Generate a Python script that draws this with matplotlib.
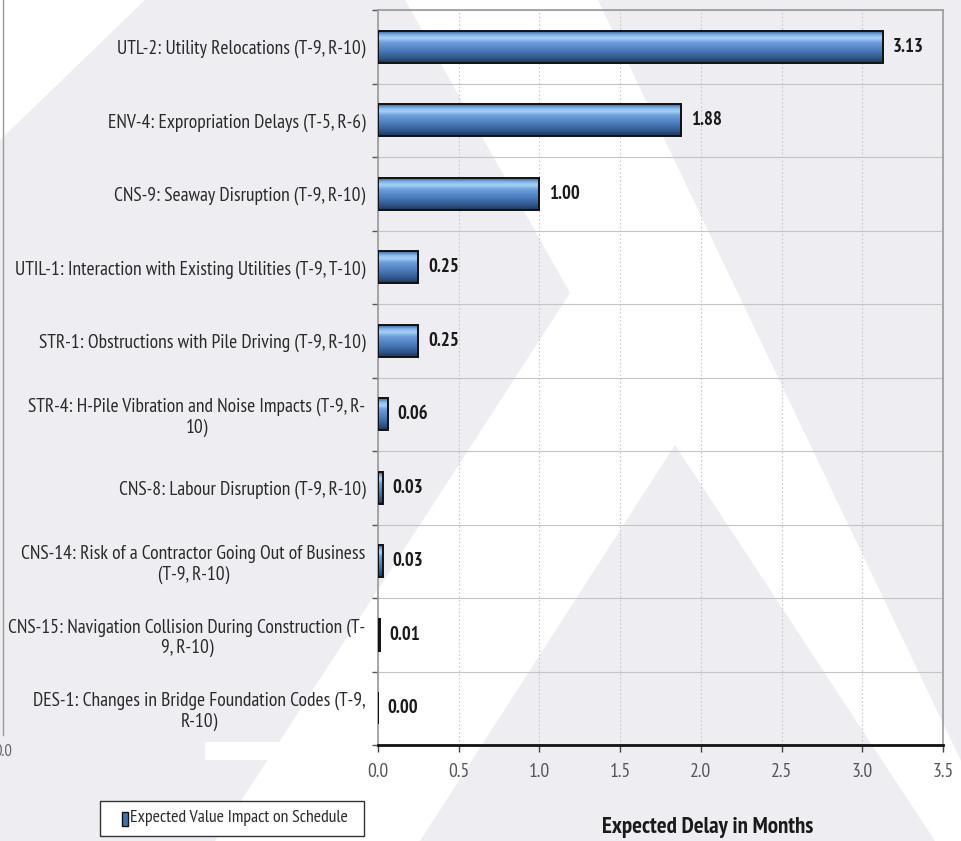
import numpy as np
import matplotlib.pyplot as plt
from matplotlib import font_manager
from matplotlib.colors import LinearSegmentedColormap
from matplotlib.patches import Polygon, Rectangle

# Risk items and their expected schedule impact (months)
risks = [
    'UTL-2: Utility Relocations (T-9, R-10)',
    'ENV-4: Expropriation Delays (T-5, R-6)',
    'CNS-9: Seaway Disruption (T-9, R-10)',
    'UTIL-1: Interaction with Existing Utilities (T-9, T-10)',
    'STR-1: Obstructions with Pile Driving (T-9, R-10)',
    'STR-4: H-Pile Vibration and Noise Impacts (T-9, R-\n10)',
    'CNS-8: Labour Disruption (T-9, R-10)',
    'CNS-14: Risk of a Contractor Going Out of Business\n(T-9, R-10)',
    'CNS-15: Navigation Collision During Construction (T-\n9, R-10)',
    'DES-1: Changes in Bridge Foundation Codes (T-9,\nR-10)',
]
delay = [3.13, 1.88, 1.00, 0.25, 0.25, 0.06, 0.03, 0.03, 0.01, 0.00]
xticks = [0.0, 0.5, 1.0, 1.5, 2.0, 2.5, 3.0, 3.5]

W, H = 962, 841

# pick a narrow sans face if one is installed
installed = {f.name for f in font_manager.fontManager.ttflist}
narrow_faces = ['Liberation Sans Narrow', 'Arial Narrow', 'PT Sans Narrow', 'Archivo Narrow',
                'Pragati Narrow', 'Roboto Condensed', 'IBM Plex Sans Condensed',
                'Fira Sans Condensed', 'Asap Condensed', 'Encode Sans Condensed']
NARROW = [f for f in narrow_faces if f in installed][:1] + ['DejaVu Sans']

fig = plt.figure(figsize=(W / 100, H / 100), dpi=100, facecolor='white')


def fpx(pts):
    # pixel coords (origin top-left) -> figure fraction
    return [(x / W, 1 - y / H) for x, y in pts]


# faint triangle pattern in the background
gray = '#eeeef2'
for pts in [
    [(0, 140), (145, 0), (405, 0), (570, 293), (215, 841), (0, 841)],
    [(598, 0), (962, 0), (962, 763)],
    [(675, 445), (420, 841), (935, 841)],
]:
    fig.patches.append(Polygon(fpx(pts), closed=True, transform=fig.transFigure,
                               facecolor=gray, edgecolor='none', zorder=-10))
fig.patches.append(Rectangle((205 / W, 1 - 760 / H), 165 / W, 18 / H,
                             transform=fig.transFigure, facecolor='white',
                             edgecolor='none', zorder=-9))
# leftover edge of a neighbouring chart
fig.add_artist(plt.Line2D([3 / W, 3 / W], [1 - 735 / H, 1], transform=fig.transFigure,
                          color='#9a9a9a', lw=1, zorder=-8))
fig.text(3 / W, 1 - 752 / H, '0.0', ha='center', va='center', fontsize=12,
         color='#666666', family=NARROW)

ax = fig.add_axes([378 / W, 1 - 745 / H, 565 / W, 735 / H])
ax.set_facecolor('none')

y = np.arange(len(risks))
bh = 0.435

# bevelled blue bars: outline from barh, shading from a vertical gradient
cmap = LinearSegmentedColormap.from_list('bevel', [
    (0.00, '#3a67a2'), (0.12, '#86b8ec'), (0.22, '#a8d0f6'), (0.35, '#6c9fdc'),
    (0.60, '#4c7dbd'), (0.85, '#30568c'), (1.00, '#1d3558')])
grad = np.linspace(0, 1, 64).reshape(-1, 1)
for yi, v in zip(y, delay):
    if v > 0:
        ax.imshow(grad, cmap=cmap, aspect='auto', origin='upper', interpolation='bilinear',
                  extent=(0, v, yi + bh / 2, yi - bh / 2), zorder=3)
ax.barh(y, delay, height=bh, facecolor='none', edgecolor='#111111', linewidth=1.4, zorder=4)

for yi, v in zip(y, delay):
    ax.annotate(f'{v:.2f}', xy=(v, yi), xytext=(7, 0), textcoords='offset points',
                ha='left', va='center', fontsize=13.5, fontweight='bold',
                color='#1a1a1a', family=NARROW, zorder=5)

ax.set_xlim(0, 3.5)
ax.set_ylim(len(risks) - 0.5, -0.5)

ax.set_xticks(xticks)
ax.set_xticklabels([f'{t:.1f}' for t in xticks], family=NARROW, fontsize=14, color='#555555')
ax.tick_params(axis='x', length=5, width=1, color='#444444', pad=8)

ax.set_yticks(y)
ax.set_yticklabels(risks, family=NARROW, fontsize=14, color='#2a2a2a', linespacing=1.15)
for lab in ax.get_yticklabels():
    lab.set_multialignment('center')
ax.set_yticks(np.arange(-0.5, len(risks)), minor=True)
ax.tick_params(axis='y', which='major', length=0, pad=9)
ax.tick_params(axis='y', which='minor', length=4, width=1, color='#555555')

ax.grid(axis='x', color='#c8c8c8', linestyle=(0, (1.5, 2)), linewidth=0.8, zorder=1)
ax.grid(axis='y', which='minor', color='#c4c4c4', linestyle='-', linewidth=0.8, zorder=1)
ax.set_axisbelow(True)

for side in ['top', 'right', 'left']:
    ax.spines[side].set_color('#9a9a9a')
    ax.spines[side].set_linewidth(1.2)
ax.spines['bottom'].set_color('#111111')
ax.spines['bottom'].set_linewidth(2)

fig.text(708 / W, 1 - 827 / H, 'Expected Delay in Months', ha='center', va='center',
         fontsize=16.5, fontweight='bold', color='#1a1a1a', family=NARROW)

# legend box
fig.patches.append(Rectangle((100 / W, 1 - 836 / H), 264 / W, 35 / H, transform=fig.transFigure,
                             facecolor='white', edgecolor='#333333', linewidth=1, zorder=2))
fig.patches.append(Rectangle((122 / W, 1 - 826 / H), 6 / W, 14 / H, transform=fig.transFigure,
                             facecolor='#3f73b6', edgecolor='#111111', linewidth=1, zorder=3))
fig.text(130 / W, 1 - 818 / H, 'Expected Value Impact on Schedule', ha='left', va='center',
         fontsize=12.8, color='#2a2a2a', family=NARROW, zorder=3)

fig.savefig('out.png', dpi=100, facecolor=fig.get_facecolor())
